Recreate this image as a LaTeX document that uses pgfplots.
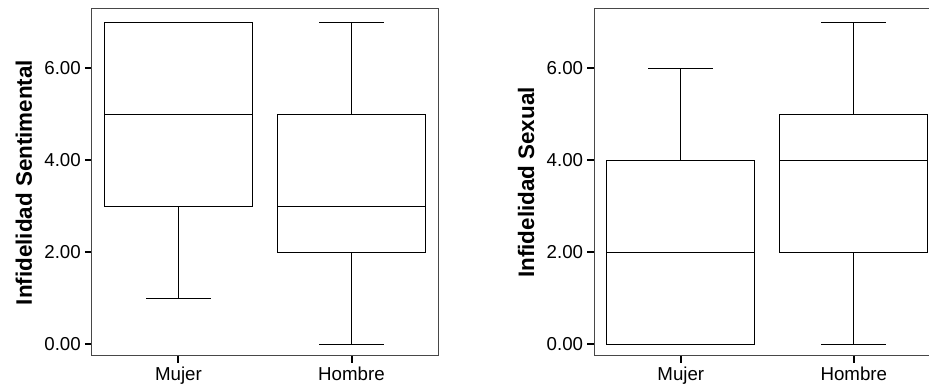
\documentclass[border=0pt]{standalone}
\usepackage{fontspec}
\setmainfont{Liberation Sans}
\usepackage{pgfplots}
\pgfplotsset{compat=1.18}
\usepgfplotslibrary{statistics}

\pgfplotsset{
  panel/.style={
    width=346pt, height=347pt, scale only axis,
    xmin=-0.5, xmax=1.5, ymin=-0.26, ymax=7.29,
    axis line style={draw=black!72, line width=1pt},
    xtick={0,1}, xticklabels={Mujer,Hombre},
    ytick={0,2,4,6}, yticklabels={0.00,2.00,4.00,6.00},
    tick align=outside, tick pos=left,
    major tick length=7pt,
    tick style={black, line width=2pt},
    ticklabel style={font=\fontsize{18.7}{22}\selectfont},
    yticklabel style={inner xsep=4pt},
    ylabel style={font=\fontsize{22.4}{26}\selectfont\bfseries,
      at={(axis description cs:-0.197,0.5)}, anchor=center},
    boxplot/draw direction=y,
    boxplot/box extend=0.856,
    boxplot/whisker extend=0.375,
  },
  bx/.style={black, line width=1pt, solid},
}

\begin{document}
\begin{tikzpicture}
\begin{scope}
\clip (-92pt,-31pt) rectangle (837pt,356pt);

\begin{axis}[panel, at={(0pt,0pt)}, anchor=south west,
  ylabel={Infidelidad Sentimental}]
  \addplot[bx, boxplot prepared={draw position=0,
    lower whisker=1, lower quartile=3, median=5,
    upper quartile=7, upper whisker=7}] coordinates {};
  \addplot[bx, boxplot prepared={draw position=1,
    lower whisker=0, lower quartile=2, median=3,
    upper quartile=5, upper whisker=7}] coordinates {};
\end{axis}

% the right panel runs past the right edge of the figure
\begin{axis}[panel, at={(502.3pt,0pt)}, anchor=south west,
  ylabel={Infidelidad Sexual}]
  \addplot[bx, boxplot prepared={draw position=0,
    lower whisker=0, lower quartile=0, median=2,
    upper quartile=4, upper whisker=6}] coordinates {};
  \addplot[bx, boxplot prepared={draw position=1,
    lower whisker=0, lower quartile=2, median=4,
    upper quartile=5, upper whisker=7}] coordinates {};
\end{axis}
\end{scope}
\pgfresetboundingbox
\useasboundingbox (-92pt,-31pt) rectangle (837pt,356pt);
\end{tikzpicture}
\end{document}
